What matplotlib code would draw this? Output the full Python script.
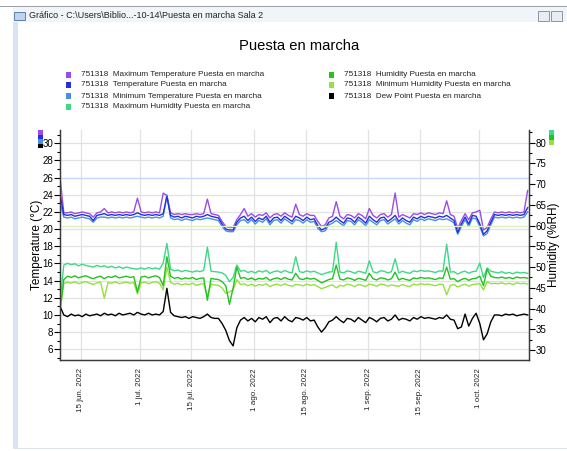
import matplotlib
matplotlib.use('Agg')
import matplotlib.pyplot as plt
from matplotlib.patches import Rectangle
from matplotlib.ticker import MultipleLocator
import numpy as np

plt.rcParams['font.family'] = ['Liberation Sans', 'DejaVu Sans']

# one reading per day, 9 jun -> 14 oct 2022
start = np.datetime64('2022-06-09T08:00')
dates = start + np.arange(128) * np.timedelta64(1, 'D')

temp = [24.0,
        21.7, 21.6, 21.7, 21.5, 21.6, 21.7, 21.6, 21.5,
        21.0,
        21.6, 21.7, 21.8, 21.6, 21.7, 21.6, 21.7, 21.6, 21.7, 21.6, 21.7,
        21.9,
        21.7, 21.6, 21.7, 21.6, 21.7, 21.6,
        21.8, 23.8,
        21.6, 21.4, 21.5, 21.3, 21.5, 21.4, 21.3, 21.5, 21.4, 21.5, 21.7, 21.5, 21.4,
        21.3, 20.6, 20.0, 19.9, 19.9, 20.8, 21.3,
        21.5, 21.0, 21.4, 20.9, 21.3, 21.1, 21.5, 20.8, 21.3, 21.4,
        21.0, 21.5, 21.2, 20.9, 21.5, 21.3, 21.0, 21.4, 21.1, 21.2,
        20.4, 19.9, 20.1, 20.8,
        21.0, 21.4, 21.0, 20.7, 21.3, 21.2, 20.8, 21.4, 21.1, 20.7,
        21.5, 21.1, 20.8, 21.3, 21.4, 20.9, 21.2, 21.6, 20.9, 21.3,
        21.0, 20.8, 21.4, 21.2, 21.5, 21.3, 21.5, 21.4, 21.3, 21.5,
        21.4, 21.6, 21.3,
        21.0, 19.6, 20.6, 21.4, 20.6, 21.6, 21.5, 20.6, 19.4, 19.8, 20.8, 21.7,
        21.6, 21.7, 21.6, 21.7, 21.6, 21.7, 21.6, 21.7, 22.5]

temp_max = [25.9,
            21.9, 21.9, 22.0, 21.8, 21.9, 22.0, 21.9, 21.8,
            21.4,
            21.9, 22.0, 22.4, 21.9, 22.0, 21.9, 22.0, 21.9, 22.0, 21.9, 22.0,
            23.6,
            22.0, 21.9, 22.0, 21.9, 22.0, 21.9,
            24.2, 23.9,
            21.9, 21.7, 21.8, 21.7, 21.8, 21.7, 21.7, 21.8, 21.7, 21.8, 23.5, 21.8, 21.7,
            21.6, 20.9, 20.3, 20.2, 20.2, 21.1, 21.7,
            22.4, 21.5, 21.8, 21.4, 21.7, 21.6, 21.9, 21.3, 21.7, 21.8,
            21.5, 21.9, 21.6, 21.4, 22.9, 21.7, 21.5, 21.8, 21.6, 21.6,
            20.9, 20.3, 20.5, 21.3,
            21.5, 23.2, 21.5, 21.2, 21.7, 21.6, 21.3, 21.8, 21.6, 21.2,
            22.4, 21.6, 21.3, 21.7, 21.8, 21.4, 21.7, 24.2, 21.4, 21.7,
            21.5, 21.3, 21.8, 21.7, 21.9, 21.7, 21.9, 21.8, 21.7, 21.9,
            21.8, 23.3, 21.7,
            21.5, 20.1, 21.0, 21.8, 21.1, 21.9, 22.0, 22.2, 19.9, 20.2, 21.2, 22.0,
            21.9, 22.0, 21.9, 22.0, 21.9, 22.0, 21.9, 22.0, 24.5]

temp_min = [23.0,
            21.4, 21.3, 21.4, 21.2, 21.3, 21.4, 21.3, 21.2,
            20.8,
            21.3, 21.4, 21.4, 21.3, 21.4, 21.3, 21.4, 21.3, 21.4, 21.3, 21.4,
            21.5,
            21.4, 21.3, 21.4, 21.3, 21.4, 21.3,
            21.5, 24.0,
            21.3, 21.1, 21.2, 21.0, 21.2, 21.1, 21.0, 21.2, 21.1, 21.2, 21.3, 21.2, 21.1,
            21.0, 20.3, 19.8, 19.7, 19.7, 20.5, 21.0,
            21.1, 20.7, 21.1, 20.6, 21.0, 20.8, 21.2, 20.5, 21.0, 21.1,
            20.7, 21.2, 20.9, 20.6, 21.1, 21.0, 20.7, 21.1, 20.8, 20.9,
            20.1, 19.7, 19.8, 20.5,
            20.7, 21.0, 20.7, 20.4, 21.0, 20.9, 20.5, 21.1, 20.8, 20.4,
            21.1, 20.8, 20.5, 21.0, 21.1, 20.6, 20.9, 21.2, 20.6, 21.0,
            20.7, 20.5, 21.1, 20.9, 21.2, 21.0, 21.2, 21.1, 21.0, 21.2,
            21.1, 21.2, 21.0,
            20.7, 19.4, 20.3, 21.1, 20.3, 21.3, 21.2, 20.3, 19.2, 19.5, 20.5, 21.4,
            21.3, 21.4, 21.3, 21.4, 21.3, 21.4, 21.3, 21.4, 22.0]

hum = [40.0,
       47.0, 47.8, 47.5, 47.9, 47.4, 47.7, 47.9, 47.5,
       47.2,
       47.6, 47.8, 47.2, 47.7, 47.5, 47.9, 47.4, 47.6, 47.8, 47.5, 47.7,
       44.0,
       47.6, 47.8, 47.4, 47.7, 47.9, 47.5,
       45.5, 52.5,
       47.8, 47.3, 47.5, 47.1, 47.4, 47.2, 47.5, 47.0, 47.3, 47.4, 42.0, 47.3, 47.1,
       47.0, 46.5, 45.5, 41.0, 45.0, 50.0, 47.3,
       47.5, 47.0, 47.4, 46.9, 47.3, 47.1, 47.5, 46.8, 47.2, 47.4,
       47.0, 47.5, 47.1, 46.9, 48.5, 47.2, 47.0, 47.4, 47.1, 47.3,
       46.8, 46.2, 46.6, 47.0,
       47.2, 50.5, 47.1, 46.9, 47.4, 47.2, 46.8, 47.3, 47.1, 46.8,
       48.5, 47.2, 46.9, 47.4, 47.3, 46.9, 47.2, 48.8, 46.9, 47.3,
       47.0, 46.8, 47.4, 47.2, 47.5, 47.3, 47.4, 47.2, 47.0, 47.4,
       47.3, 50.0, 47.1,
       47.2, 46.5, 47.0, 47.3, 46.8, 47.2, 47.3, 47.8, 45.5, 49.5, 47.8, 47.5,
       47.4, 47.6, 47.3, 47.5, 47.2, 47.6, 47.4, 47.5, 47.3]

hum_max = [42.0,
           50.5, 50.9, 50.6, 50.8, 50.3, 50.7, 50.4, 50.2,
           50.0,
           50.4, 50.1, 50.3, 49.9, 50.2, 49.8, 50.1, 49.7, 50.0, 49.8, 49.6,
           49.5,
           49.8, 49.5, 49.9, 49.6, 49.8, 49.5,
           51.0, 55.7,
           49.5, 49.1, 49.3, 48.9, 49.2, 49.0, 48.8, 49.1, 48.9, 49.2, 54.8, 49.0, 48.9,
           48.8, 48.6, 48.0, 46.5, 47.5, 50.5, 49.0,
           49.2, 48.7, 49.0, 48.6, 49.1, 48.8, 49.2, 48.5, 48.9, 49.1,
           48.7, 49.2, 48.8, 48.6, 52.5, 48.9, 48.7, 49.1, 48.8, 49.0,
           48.6, 48.2, 48.5, 48.8,
           48.9, 56.0, 48.8, 48.6, 49.1, 48.9, 48.5, 49.0, 48.8, 48.5,
           51.5, 48.9, 48.6, 49.1, 49.0, 48.6, 48.9, 52.0, 48.6, 49.0,
           48.7, 48.5, 49.1, 48.9, 49.2, 49.0, 49.1, 48.9, 48.7, 49.1,
           49.0, 55.5, 48.8,
           48.9, 48.3, 48.8, 49.0, 48.5, 48.9, 49.0, 51.0, 47.5, 49.8, 49.0, 48.8,
           48.6, 48.9, 48.5, 48.7, 48.4, 48.8, 48.6, 48.7, 48.5]

hum_min = [39.5,
           46.0, 46.4, 46.1, 46.5, 46.0, 46.3, 46.5, 46.1,
           45.8,
           46.2, 46.4, 42.5, 46.3, 46.1, 46.5, 46.0, 46.2, 46.4, 46.1, 46.3,
           43.5,
           46.2, 46.4, 46.0, 46.3, 46.5, 46.1,
           44.5, 50.0,
           46.3, 45.9, 46.1, 45.7, 46.0, 45.8, 46.1, 45.6, 45.9, 46.0, 43.0, 45.9, 45.7,
           45.6, 45.0, 43.7, 44.0, 44.5, 47.0, 45.8,
           46.0, 45.5, 45.9, 45.4, 45.8, 45.6, 46.0, 45.3, 45.7, 45.9,
           45.5, 46.0, 45.6, 45.4, 45.8, 45.7, 45.5, 45.9, 45.6, 45.8,
           45.3, 44.8, 45.1, 45.5,
           45.7, 45.0, 45.6, 45.4, 45.9, 45.7, 45.3, 45.8, 45.6, 45.3,
           45.9, 45.7, 45.4, 45.9, 45.8, 45.4, 45.7, 45.5, 45.4, 45.8,
           45.5, 45.3, 45.9, 45.7, 46.0, 45.8, 45.9, 45.7, 45.5, 45.9,
           45.8, 43.3, 45.6,
           45.8, 45.2, 45.6, 45.9, 45.4, 45.8, 45.9, 46.0, 44.5, 46.5, 46.0, 46.1,
           46.0, 46.2, 45.9, 46.1, 45.8, 46.2, 46.0, 46.1, 45.9]

dew = [11.0,
       10.0, 9.8, 10.1, 9.9, 10.0, 9.8, 10.1, 9.9,
       10.0,
       10.1, 9.9, 10.2, 10.0, 10.1, 9.9, 10.2, 10.0, 10.1, 10.2, 10.0,
       10.3,
       10.1, 10.0, 10.2, 10.0, 10.1, 10.0,
       10.4, 13.1,
       10.3, 9.9, 9.8, 9.7, 9.8, 9.6, 9.8, 9.7, 9.6, 9.8, 10.1, 9.7, 9.6,
       9.6, 9.0, 8.2, 7.0, 6.4, 8.5, 9.4,
       9.7, 9.3, 9.6, 9.2, 9.7, 9.5, 9.8, 9.1, 9.6, 9.7,
       9.3, 9.8, 9.4, 9.2, 9.7, 9.6, 9.4, 9.7, 9.3, 9.4,
       8.6, 8.0, 8.5, 9.2,
       9.4, 9.8, 9.4, 9.1, 9.6, 9.5, 9.2, 9.7, 9.4, 9.1,
       9.7, 9.5, 9.2, 9.6, 9.7, 9.3, 9.5, 10.0, 9.4, 9.6,
       9.5, 9.3, 9.7, 9.5, 9.8, 9.6, 9.7, 9.6, 9.5, 9.7,
       9.6, 10.0, 9.5,
       9.4, 8.4, 8.6, 10.1, 8.7, 9.6, 10.2, 9.0, 7.1, 7.8, 9.2, 10.0,
       10.0, 9.9, 10.1, 10.0, 10.1, 9.9, 10.0, 10.1, 10.0]

tick_dates = ['2022-06-15', '2022-07-01', '2022-07-15', '2022-08-01',
              '2022-08-15', '2022-09-01', '2022-09-15', '2022-10-01']
tick_labels = ['15 jun. 2022', '1 jul. 2022', '15 jul. 2022', '1 ago. 2022',
               '15 ago. 2022', '1 sep. 2022', '15 sep. 2022', '1 oct. 2022']

names = ['751318  Maximum Temperature Puesta en marcha',
         '751318  Temperature Puesta en marcha',
         '751318  Minimum Temperature Puesta en marcha',
         '751318  Maximum Humidity Puesta en marcha',
         '751318  Humidity Puesta en marcha',
         '751318  Minimum Humidity Puesta en marcha',
         '751318  Dew Point Puesta en marcha']

c_tmax = '#9A4DE6'
c_temp = '#2430D8'
c_tmin = '#4A90E2'
c_hmax = '#3DD888'
c_hum = '#22C322'
c_hmin = '#96E040'
c_dew = '#000000'
colors = [c_tmax, c_temp, c_tmin, c_hmax, c_hum, c_hmin, c_dew]

W, H = 567, 451
fig = plt.figure(figsize=(W / 100, H / 100), dpi=100)

# window frame
fig.patches.append(Rectangle((0, 1 - 7 / H), 1, 1.5 / H, transform=fig.transFigure,
                             facecolor='#9A9EA6', edgecolor='none'))
fig.patches.append(Rectangle((13 / W, 1 - 22 / H), 1, 15 / H, transform=fig.transFigure,
                             facecolor='#F1F4F8', edgecolor='none'))
fig.patches.append(Rectangle((13 / W, 1 - 448 / H), 5 / W, 426 / H, transform=fig.transFigure,
                             facecolor='#D7E4F2', edgecolor='none'))
fig.patches.append(Rectangle((13 / W, 1 - 449 / H), 1, 1.5 / H, transform=fig.transFigure,
                             facecolor='#DCE3EA', edgecolor='none'))
fig.patches.append(Rectangle((14 / W, 1 - 20 / H), 11 / W, 8 / H, transform=fig.transFigure,
                             facecolor='#BFD3EA', edgecolor='#4A6FA8', lw=0.6))
for bx in [538, 551]:
    fig.patches.append(Rectangle((bx / W, 1 - 21 / H), 11 / W, 10 / H, transform=fig.transFigure,
                                 facecolor='#E8EDF3', edgecolor='#7A8799', lw=0.6))
fig.text(29 / W, 1 - 16 / H, 'Gráfico - C:\\Users\\Biblio...-10-14\\Puesta en marcha Sala 2',
         fontsize=6.5, va='center', ha='left', color='#222222')

fig.text(299 / W, 1 - 46 / H, 'Puesta en marcha', fontsize=10.6, ha='center', va='center')

# legend, two columns
leg_pos = [(66, 75), (66, 85), (66, 96), (66, 107), (329, 75), (329, 85), (329, 96)]
for (lx, ly), name, col in zip(leg_pos, names, colors):
    fig.patches.append(Rectangle((lx / W, 1 - (ly + 2.5) / H), 5 / W, 5 / H,
                                 transform=fig.transFigure, facecolor=col, edgecolor='none'))
    fig.text((lx + 15) / W, 1 - ly / H, name, fontsize=5.9, va='center', ha='left',
             color='#222222')

# little series markers beside the axes
for k, col in enumerate([c_tmax, c_temp, c_tmin, c_dew]):
    fig.patches.append(Rectangle((38 / W, 1 - (134.5 + 4.5 * k) / H), 5 / W, 4.5 / H,
                                 transform=fig.transFigure, facecolor=col, edgecolor='none'))
for k, col in enumerate([c_hmax, c_hum, c_hmin]):
    fig.patches.append(Rectangle((549 / W, 1 - (135 + 5 * k) / H), 5 / W, 5 / H,
                                 transform=fig.transFigure, facecolor=col, edgecolor='none'))

ax = fig.add_axes([60 / W, 1 - 360 / H, 469 / W, 230 / H])
ax2 = ax.twinx()

ax.axhline(26, color='#C9DAF6', lw=1, zorder=1)
ax2.axhline(60, color='#DDEFC4', lw=1, zorder=1)

ax.plot(dates, temp_max, color=c_tmax, lw=1.0, zorder=3)
ax.plot(dates, temp_min, color=c_tmin, lw=1.0, zorder=3)
ax.plot(dates, temp, color=c_temp, lw=1.0, zorder=4)
ax.plot(dates, dew, color=c_dew, lw=1.0, zorder=4)
ax2.plot(dates, hum_max, color=c_hmax, lw=1.0)
ax2.plot(dates, hum_min, color=c_hmin, lw=1.0)
ax2.plot(dates, hum, color=c_hum, lw=1.0)

ax.set_xlim(np.datetime64('2022-06-09T07:12'), np.datetime64('2022-10-14T16:48'))
ax.set_ylim(4.75, 31.55)
ax2.set_ylim(27.6, 83.06)

ax.set_xticks([np.datetime64(d) for d in tick_dates])
ax.set_xticklabels(tick_labels, rotation=90, fontsize=5.8, color='#222222')
ax.tick_params(axis='x', length=0, pad=6)

ax.set_yticks(np.arange(6, 31, 2))
ax.yaxis.set_minor_locator(MultipleLocator(1))
ax.tick_params(axis='y', which='major', length=4, width=0.8, labelsize=7, pad=1)
ax.tick_params(axis='y', which='minor', length=2, width=0.8)

ax2.set_yticks(np.arange(30, 81, 5))
ax2.yaxis.set_minor_locator(MultipleLocator(2.5))
ax2.tick_params(axis='y', which='major', length=4, width=0.8, labelsize=7, pad=1)
ax2.tick_params(axis='y', which='minor', length=2, width=0.8)

ax.grid(True, color='#E2E2E2', lw=0.9)
ax.set_axisbelow(True)

for a in (ax, ax2):
    a.spines['top'].set_visible(False)
    for s in ('left', 'right', 'bottom'):
        a.spines[s].set_color('#3A3A3A')
        a.spines[s].set_linewidth(0.9)

ax.set_ylabel('Temperature (°C)', fontsize=8.5)
ax.yaxis.set_label_coords(-0.036, 0.5)
ax2.set_ylabel('Humidity (%RH)', fontsize=8.5)
ax2.yaxis.set_label_coords(1.04, 0.5)

fig.savefig('out.png', dpi=100)
